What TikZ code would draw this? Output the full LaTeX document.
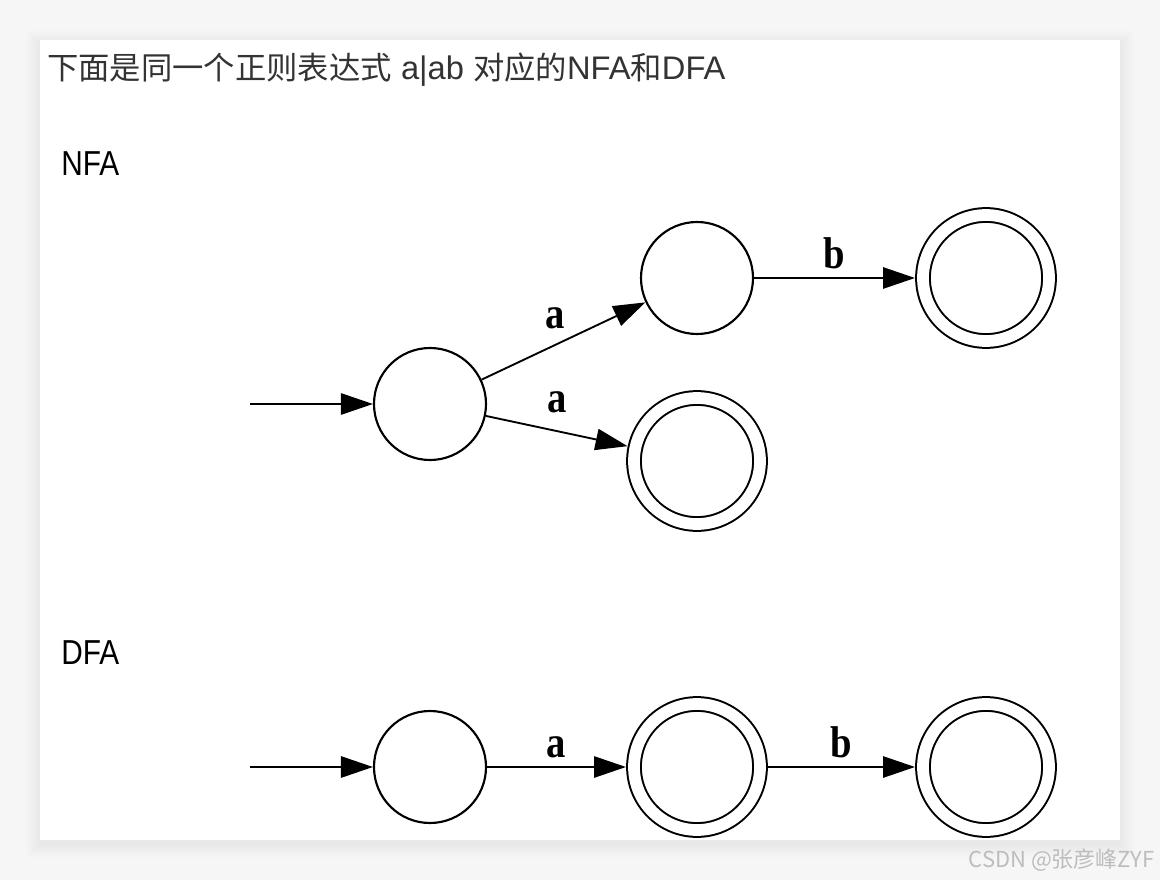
\documentclass[tikz,border=0pt]{standalone}
\usepackage{fontspec}
\usepackage{graphicx}
\setmainfont{Liberation Sans}
\newfontfamily\cjk{Noto Sans CJK SC}
\newfontfamily\symfont{Liberation Serif}
\usetikzlibrary{arrows.meta}
\definecolor{pagegray}{HTML}{F6F6F6}
\definecolor{titlegray}{HTML}{333333}
\definecolor{markgray}{HTML}{BDBDBD}
\newcommand{\tall}[1]{\scalebox{0.86}[1]{#1}}
\newcommand{\sym}[1]{\scalebox{1}[1.15]{#1}}

\begin{document}
\begin{tikzpicture}[
	x=0.75pt, y=-0.75pt,
	state/.style={ circle, draw, line width=1.6pt, inner sep=0pt, minimum size=84pt },
	final/.style={ circle, draw, line width=1.5pt, double, double distance=8.8pt, inner sep=0pt, minimum size=94.5pt, outer sep=6pt },
	trans/.style={ line width=1.4pt, -{Triangle[length=24pt,width=16pt]} },
	symb/.style={ font=\symfont\bfseries\fontsize{29}{32}\selectfont, inner sep=2pt, above=4pt },
	head/.style={ anchor=west, inner sep=0pt, font=\fontsize{26}{30}\selectfont }
]

% page and card
\fill[pagegray] (0,0) rectangle (1160,880);
\foreach \d in {1,...,14} \fill[black, opacity=0.005] (40-\d,40-\d+4) rectangle (1120+\d,840+\d+4);
\fill[white] (40,40) rectangle (1120,840);

\node at (47,70) (title) [anchor=west, inner sep=0pt, text=titlegray, font=\fontsize{24.5}{28}\selectfont] {{\cjk\fontsize{23.5}{28}\selectfont 下面是同一个正则表达式} a|ab {\cjk\fontsize{23.5}{28}\selectfont 对应的}NFA{\cjk\fontsize{23.5}{28}\selectfont 和}DFA};

% NFA
\node at (61,164) (nfa) [head] {\tall{NFA}};
\coordinate (n0in) at (250,404);
\node at (430,404) (n0) [state] {};
\node at (697,278) (n1) [state] {};
\node at (986,278) (n2) [final] {};
\node at (697,461) (n3) [final] {};
\draw[trans] (n0in) to (n0);
\draw[trans] (n0) to node[symb, above=5pt, pos=0.45] {\sym{a}} (n1);
\draw[trans] (n0) to node[symb, above=7pt] {\sym{a}} (n3);
\draw[trans] (n1) to node[symb] {\sym{b}} (n2);

% DFA
\node at (61,653) (dfa) [head] {\tall{DFA}};
\coordinate (d0in) at (250,767);
\node at (430,767) (d0) [state] {};
\node at (697,767) (d1) [final] {};
\node at (986,767) (d2) [final] {};
\draw[trans] (d0in) to (d0);
\draw[trans] (d0) to node[symb] {\sym{a}} (d1);
\draw[trans] (d1) to node[symb] {\sym{b}} (d2);

\node at (1155,860) (mark) [anchor=east, inner sep=0pt, text=markgray, font=\cjk\fontsize{16.5}{20}\selectfont] {CSDN @张彦峰ZYF};

\useasboundingbox (0,0) rectangle (1160,880);
\end{tikzpicture}
\end{document}
